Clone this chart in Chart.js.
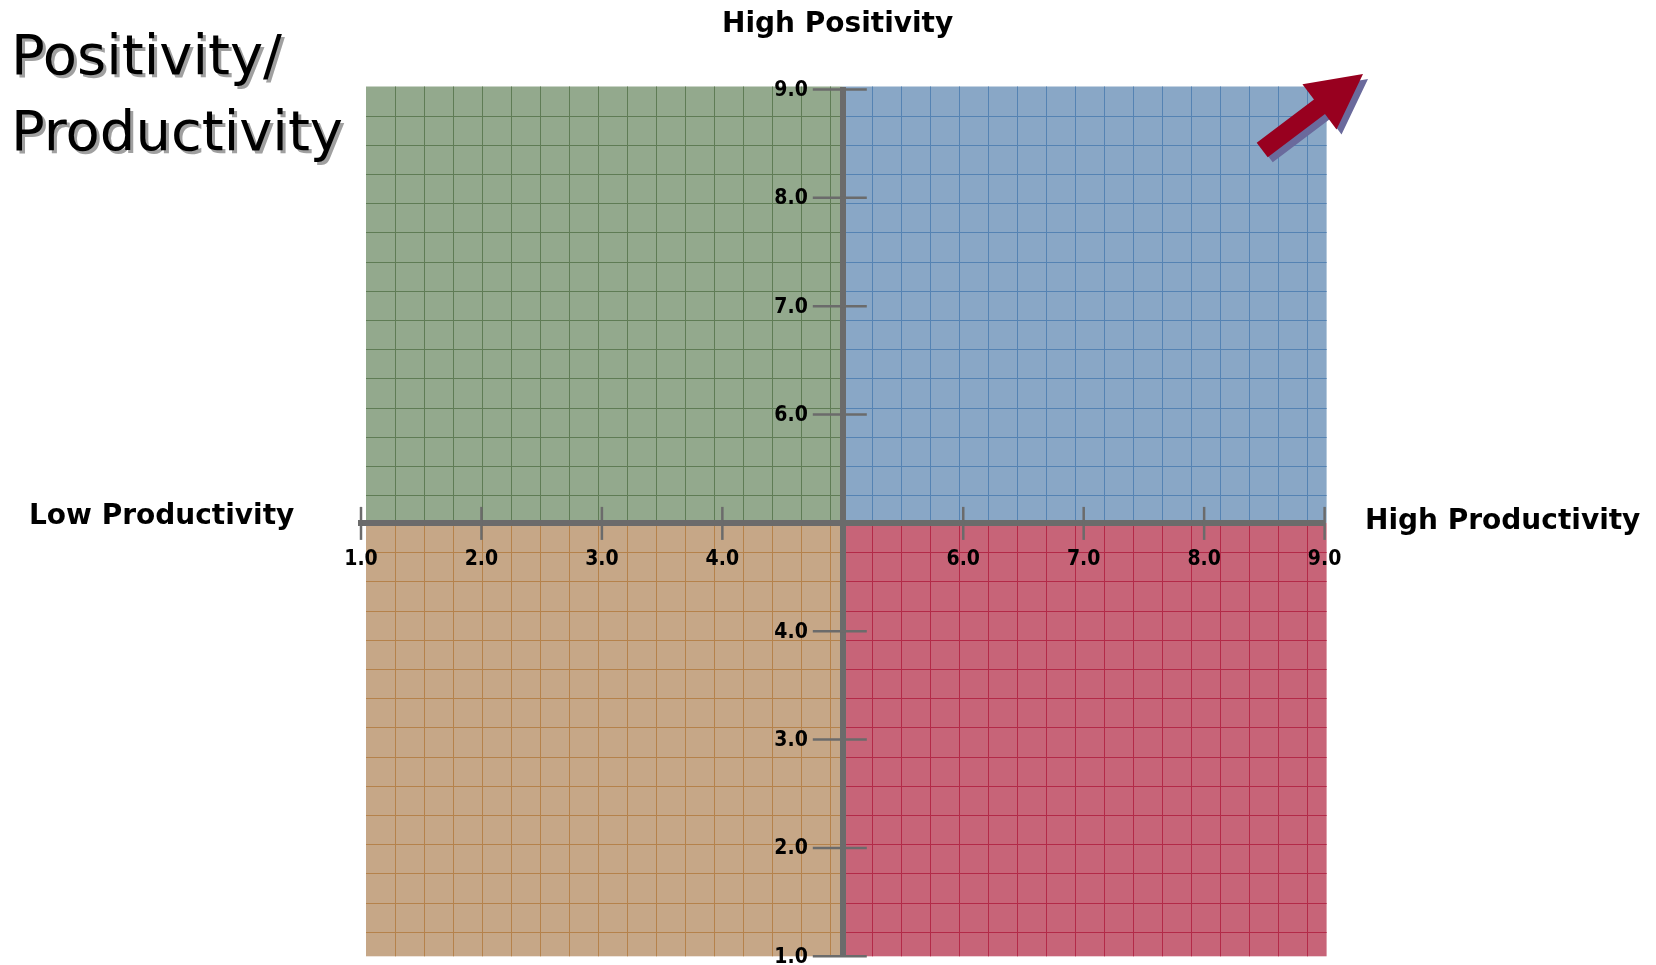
<!DOCTYPE html>
<html>
<head>
<meta charset="utf-8">
<script src="https://cdn.jsdelivr.net/npm/chart.js@4.4.0/dist/chart.umd.min.js"></script>
<style>
  body { margin: 0; background: #fff; }
  #wrap { position: relative; width: 1656px; height: 965px; }
  .rotulo {
    position: absolute;
    font-family: 'DejaVu Sans', sans-serif;
    font-weight: bold;
    font-size: 28px;
    line-height: 1;
    white-space: nowrap;
    color: #000;
  }
  #titulo {
    position: absolute;
    left: 11px;
    top: 17px;
    font-family: 'DejaVu Sans', sans-serif;
    font-size: 56px;
    line-height: 76px;
    color: #000;
    text-shadow: 3px 3px 0 #a0a0a0;
    white-space: nowrap;
  }
</style>
</head>
<body>
<div id="wrap">
  <canvas id="quadrante" width="1656" height="965"></canvas>
  <div id="titulo">Positivity/<br>Productivity</div>
  <div class="rotulo" style="left:722px; top:9px;">High Positivity</div>
  <div class="rotulo" style="left:29px; top:501px;">Low Productivity</div>
  <div class="rotulo" style="left:1365px; top:506px;">High Productivity</div>
</div>
<script>
// dados do quadrante
const limites = [1, 9]
const pontoMedio = 5
const ticksX = [1, 2, 3, 4, 6, 7, 8, 9]
const ticksY = [1, 2, 3, 4, 6, 7, 8, 9]
const quadranteX = [[1, 5], [5, 9], [1, 5], [5, 9]]
const quadranteY = [[5, 9], [5, 9], [1, 5], [1, 5]]

// estilo
const corEixo = '#6b6b6b'
const corFundo = ['#93a98d', '#89a7c6', '#c6a787', '#c76478']
const corGrade = ['#5f7c55', '#5583b3', '#b5824b', '#b32a48']
const passoGrade = [29, 29.2]

const fonteTicks = {
  family: "'DejaVu Sans Condensed', 'DejaVu Sans', sans-serif",
  size: 21,
  weight: 'bold'
}
const rotuloTick = v => Number(v).toFixed(1)

function linha(ctx, x1, y1, x2, y2) {
  ctx.beginPath()
  ctx.moveTo(x1, y1)
  ctx.lineTo(x2, y2)
  ctx.stroke()
}

const pluginQuadrantes = {
  id: 'quadrantes',
  beforeDraw(chart) {
    const { ctx, scales: { x, y } } = chart
    ctx.save()
    for (let i = 0; i < quadranteX.length; i++) {
      let esq = x.getPixelForValue(quadranteX[i][0])
      let dir = x.getPixelForValue(quadranteX[i][1])
      let topo = y.getPixelForValue(quadranteY[i][1])
      let base = y.getPixelForValue(quadranteY[i][0])
      if (quadranteX[i][0] === limites[0]) esq += 5
      if (quadranteX[i][1] === limites[1]) dir += 2
      if (quadranteY[i][1] === limites[1]) topo -= 3
      ctx.fillStyle = corFundo[i]
      ctx.fillRect(esq, topo, dir - esq, base - topo)

      ctx.strokeStyle = corGrade[i]
      ctx.lineWidth = 1
      for (let gx = esq + passoGrade[0]; gx < dir - 2; gx += passoGrade[0]) {
        const px = Math.round(gx) + 0.5
        linha(ctx, px, topo, px, base)
      }
      for (let gy = topo + passoGrade[1]; gy < base - 2; gy += passoGrade[1]) {
        const py = Math.round(gy) + 0.5
        linha(ctx, esq, py, dir, py)
      }
    }
    ctx.restore()
  },
  afterDraw(chart) {
    const { ctx, chartArea, scales: { x, y } } = chart
    const x0 = x.getPixelForValue(pontoMedio)
    const y0 = y.getPixelForValue(pontoMedio)
    ctx.save()
    ctx.strokeStyle = corEixo
    ctx.lineWidth = 2.5
    x.ticks.forEach(t => {
      const px = x.getPixelForValue(t.value)
      linha(ctx, px, y0 - 16, px, y0 + 17)
    })
    y.ticks.forEach(t => {
      const py = y.getPixelForValue(t.value)
      linha(ctx, x0 - 30, py, x0 + 24, py)
    })

    // rótulos do eixo vertical, à esquerda das marcas
    ctx.fillStyle = '#000'
    ctx.font = `${fonteTicks.weight} ${fonteTicks.size}px ${fonteTicks.family}`
    ctx.textAlign = 'right'
    ctx.textBaseline = 'middle'
    y.ticks.forEach(t => {
      ctx.fillText(rotuloTick(t.value), x0 - 35, y.getPixelForValue(t.value) + 1)
    })

    // seta no canto superior direito
    const cauda = [chartArea.right - 62.4, chartArea.top + 60.5]
    const ponta = [chartArea.right + 38.4, chartArea.top - 15.5]
    const dx = ponta[0] - cauda[0]
    const dy = ponta[1] - cauda[1]
    const comp = Math.hypot(dx, dy)
    const ux = dx / comp, uy = dy / comp
    const nx = -uy, ny = ux
    const haste = 9.15, cabeca = 28.3, compCabeca = 54.5
    const bx = ponta[0] - ux * compCabeca
    const by = ponta[1] - uy * compCabeca
    const pts = [
      [cauda[0] + nx * haste, cauda[1] + ny * haste],
      [bx + nx * haste, by + ny * haste],
      [bx + nx * cabeca, by + ny * cabeca],
      ponta,
      [bx - nx * cabeca, by - ny * cabeca],
      [bx - nx * haste, by - ny * haste],
      [cauda[0] - nx * haste, cauda[1] - ny * haste]
    ]
    const desenhaSeta = (ox, oy, cor) => {
      ctx.fillStyle = cor
      ctx.beginPath()
      pts.forEach((p, i) => i ? ctx.lineTo(p[0] + ox, p[1] + oy) : ctx.moveTo(p[0] + ox, p[1] + oy))
      ctx.closePath()
      ctx.fill()
    }
    desenhaSeta(5, 5, '#6a6a9c')
    desenhaSeta(0, 0, '#98001f')
    ctx.restore()
  }
}

const ctx = document.getElementById('quadrante')

new Chart(ctx, {
  type: 'scatter',
  data: { datasets: [] },
  options: {
    responsive: false,
    animation: false,
    layout: {
      autoPadding: false,
      padding: { left: 361, right: 331.4, top: 89.5, bottom: 8.7 }
    },
    plugins: {
      legend: { display: false },
      tooltip: { enabled: false }
    },
    scales: {
      x: {
        type: 'linear',
        min: limites[0],
        max: limites[1],
        position: { y: pontoMedio },
        afterBuildTicks: s => { s.ticks = ticksX.map(v => ({ value: v })) },
        afterFit: s => { s.height = 0 },
        grid: { drawOnChartArea: false, drawTicks: false },
        border: { display: true, color: corEixo, width: 6 },
        ticks: {
          padding: 24,
          color: '#000',
          font: fonteTicks,
          autoSkip: false,
          maxRotation: 0,
          callback: rotuloTick
        }
      },
      y: {
        type: 'linear',
        min: limites[0],
        max: limites[1],
        position: { x: pontoMedio },
        afterBuildTicks: s => { s.ticks = ticksY.map(v => ({ value: v })) },
        afterFit: s => { s.width = 0 },
        grid: { drawOnChartArea: false, drawTicks: false },
        border: { display: true, color: corEixo, width: 6 },
        ticks: { display: false }
      }
    }
  },
  plugins: [pluginQuadrantes]
});
</script>
</body>
</html>
